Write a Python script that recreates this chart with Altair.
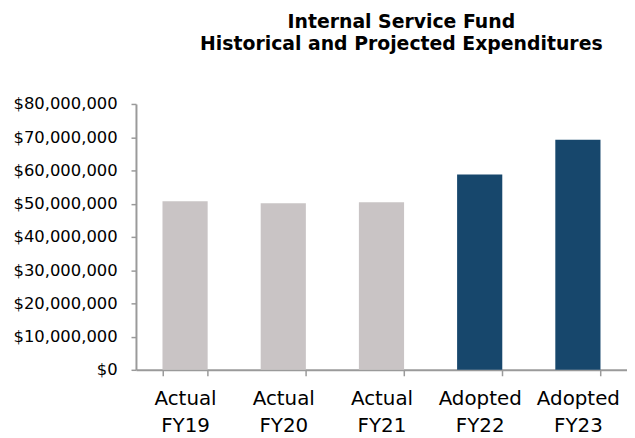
import altair as alt
import pandas as pd

categories = ["Actual FY19", "Actual FY20", "Actual FY21", "Adopted FY22", "Adopted FY23"]
values = [50700000, 50100000, 50400000, 58800000, 69200000]
status = ["Actual", "Actual", "Actual", "Adopted", "Adopted"]
y_ticks = [0, 10000000, 20000000, 30000000, 40000000, 50000000, 60000000, 70000000, 80000000]
title_lines = ["Internal Service Fund", "Historical and Projected Expenditures"]

df = pd.DataFrame({"category": categories, "value": values, "status": status})

axis_gray = "#9A9A9A"
FONT = "DejaVu Sans"

chart = alt.Chart(df).mark_bar().encode(
    x=alt.X(
        "category:N",
        sort=categories,
        scale=alt.Scale(paddingInner=0.54, paddingOuter=0.27),
        axis=alt.Axis(
            title=None, labelAngle=0, labelExpr="split(datum.label, ' ')",
            labelFont=FONT, labelFontSize=20, labelLineHeight=27, labelColor="#000000",
            labelOverlap=False, tickBand="extent", tickSize=6, tickColor=axis_gray,
            tickWidth=1.5, domainColor=axis_gray, domainWidth=2, labelPadding=13,
        ),
    ),
    y=alt.Y(
        "value:Q",
        scale=alt.Scale(domain=[0, 80000000], nice=False),
        axis=alt.Axis(
            title=None, values=y_ticks, format="$,.0f", grid=False,
            labelFont=FONT, labelFontSize=16.5, labelColor="#000000",
            tickSize=5, tickColor=axis_gray, tickWidth=1.5,
            domainColor=axis_gray, domainWidth=2, labelPadding=14,
        ),
    ),
    color=alt.Color(
        "status:N",
        scale=alt.Scale(domain=["Actual", "Adopted"], range=["#C9C4C5", "#17476C"]),
        legend=None,
    ),
).properties(
    width=495,
    height=268,
    title=alt.TitleParams(
        title_lines, font=FONT, fontSize=19, fontWeight="bold", lineHeight=22.5,
        anchor="middle", dx=20, offset=42, color="#000000",
    ),
    autosize=alt.AutoSizeParams(type="none"),
    padding={"left": 129, "top": 95, "right": 0, "bottom": 66},
).configure_view(stroke=None)

chart.save("out.html", embed_options={"renderer": "svg", "actions": False})
